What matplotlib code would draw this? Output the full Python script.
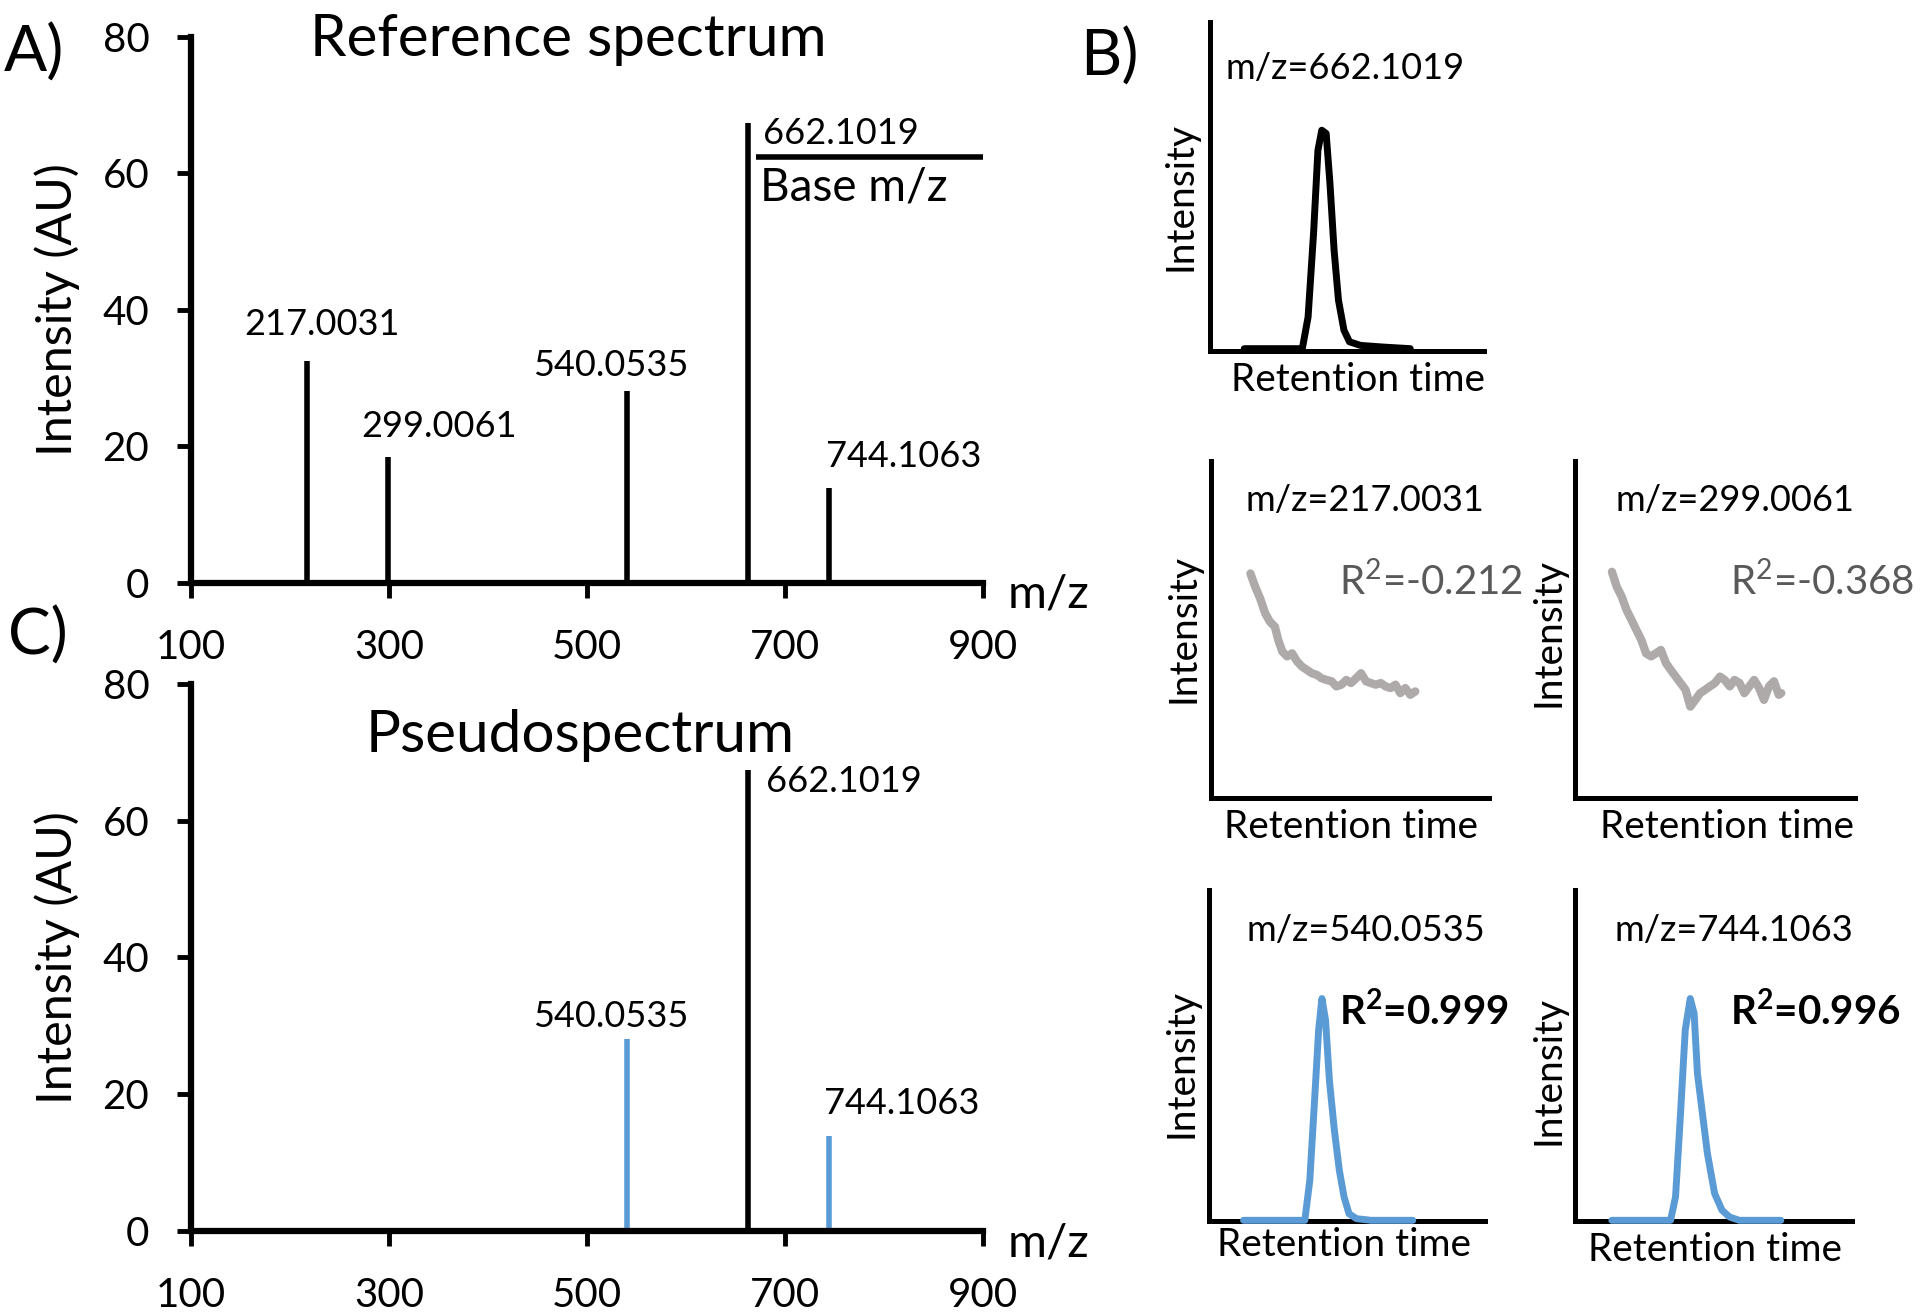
"""
Reference spectrum / pseudospectrum figure with extracted ion chromatograms
"""

import matplotlib
matplotlib.use('Agg')
import matplotlib.pyplot as plt

plt.rcParams['font.family'] = ['Lato', 'DejaVu Sans']
plt.rcParams['mathtext.fontset'] = 'custom'
plt.rcParams['mathtext.rm'] = 'Lato'
plt.rcParams['mathtext.bf'] = 'Lato:bold'

BLUE = '#5B9BD5'
GRAY = '#AEAAAA'
DARKGRAY = '#595959'

# 参考谱图 (A)
ref_mz = [217.0031, 299.0061, 540.0535, 662.1019, 744.1063]
ref_int = [32.5, 18.5, 28.1, 67.4, 13.9]
base_level = 62.4

# 伪谱图 (C)
pseudo_mz = [540.0535, 662.1019, 744.1063]
pseudo_int = [28.1, 67.4, 13.9]
pseudo_colors = [BLUE, 'black', BLUE]

mz_ticks = [100, 300, 500, 700, 900]
int_ticks = [0, 20, 40, 60, 80]

# 色谱图 (B)，保留时间 / 强度 均为 0-100 相对单位
rt_662 = [12.5, 33.7, 35.8, 37.8, 39.4, 40.8, 42.4, 43.8, 45.3, 46.9, 48.9, 50.9, 54.9, 63.0, 73.1]
eic_662 = [0.7, 0.7, 10.3, 35.7, 61.0, 67.1, 66.1, 50.8, 30.6, 15.4, 6.3, 2.8, 1.7, 1.2, 0.7]

rt_217 = [14.2, 15.9, 17.7, 19.5, 21.2, 23.0, 24.2, 25.7, 27.4, 29.2, 31.0, 32.7, 34.5, 36.3,
          38.1, 39.8, 41.6, 43.4, 45.1, 46.9, 48.7, 50.4, 52.2, 54.0, 55.8, 57.5, 59.3, 61.1,
          62.8, 64.6, 66.4, 68.1, 69.9, 71.7, 73.5]
eic_217 = [66.6, 62.7, 59.2, 54.8, 52.3, 50.8, 46.9, 43.4, 42.0, 42.9, 40.5, 39.0, 38.0, 37.0,
           36.5, 35.5, 35.0, 34.6, 33.1, 33.6, 35.0, 34.1, 35.5, 37.0, 34.6, 34.1, 33.6, 34.1,
           33.1, 32.6, 33.6, 31.1, 32.6, 30.6, 31.6]

rt_299 = [13.2, 14.9, 16.7, 18.4, 20.2, 21.9, 23.7, 25.4, 27.2, 28.9, 30.7, 32.5, 34.2, 36.0,
          37.7, 39.5, 41.2, 43.0, 44.7, 46.5, 48.2, 50.0, 51.8, 53.5, 55.3, 57.0, 58.8, 60.5,
          62.3, 64.0, 65.8, 67.5, 69.3, 71.1, 72.8, 73.7]
eic_299 = [67.1, 62.7, 59.7, 55.8, 52.8, 49.9, 46.9, 42.9, 42.0, 42.9, 43.9, 40.0, 38.0, 36.0,
           34.1, 32.1, 27.1, 29.1, 31.1, 32.1, 33.1, 34.1, 36.0, 35.0, 33.1, 35.0, 34.1, 31.1,
           33.1, 35.0, 32.6, 29.1, 33.1, 34.6, 30.6, 31.1]

rt_540 = [12.5, 34.7, 36.5, 38.3, 39.7, 40.9, 42.2, 43.6, 45.4, 47.2, 48.9, 50.7, 53.4, 58.7, 73.8]
eic_540 = [0.2, 0.2, 12.3, 37.5, 57.7, 67.2, 60.7, 42.5, 27.4, 15.3, 7.3, 2.2, 0.7, 0.2, 0.2]

rt_744 = [13.3, 34.5, 36.3, 38.1, 39.8, 41.6, 43.0, 44.2, 46.0, 47.8, 50.4, 53.1, 55.8, 59.3, 74.3]
eic_744 = [0.2, 0.2, 7.3, 32.5, 57.7, 67.2, 62.7, 44.6, 32.5, 20.4, 8.3, 3.2, 1.2, 0.2, 0.2]


def style_spectrum_axes(ax):
    for side in ('top', 'right'):
        ax.spines[side].set_visible(False)
    for side in ('left', 'bottom'):
        ax.spines[side].set_linewidth(4.5)
    ax.set_xlim(100, 900)
    ax.set_ylim(0, 80)
    ax.set_xticks(mz_ticks)
    ax.set_yticks(int_ticks)
    ax.tick_params(axis='x', direction='out', length=11, width=3.5, pad=22, labelsize=29)
    ax.tick_params(axis='y', direction='out', length=10, width=3.5, pad=20, labelsize=29)
    ax.set_ylabel('Intensity (AU)', fontsize=35, va='center')
    ax.yaxis.set_label_coords(-0.169, 0.5)
    ax.set_xlabel('m/z', fontsize=34, va='center', ha='center')
    ax.xaxis.set_label_coords(1.083, -0.022)


def style_eic_axes(ax):
    for side in ('top', 'right'):
        ax.spines[side].set_visible(False)
    for side in ('left', 'bottom'):
        ax.spines[side].set_linewidth(3.6)
    ax.set_xlim(0, 100)
    ax.set_ylim(0, 100)
    ax.set_xticks([])
    ax.set_yticks([])


fig = plt.figure(figsize=(19.2, 13.15), dpi=100)

# ---- A) 参考谱图 ----
ax_a = fig.add_axes([0.0995, 0.5567, 0.4125, 0.4152])
ax_a.vlines(ref_mz, 0, ref_int, color='black', lw=4)
style_spectrum_axes(ax_a)
ax_a.text(481, 79.6, 'Reference spectrum', fontsize=42, ha='center', va='center', clip_on=False)
ref_label_pos = [(232, 37.9, 'center'), (351, 22.9, 'center'), (524, 31.8, 'center'),
                 (677.5, 65.9, 'left'), (820, 18.5, 'center')]
for mz, (lx, ly, ha) in zip(ref_mz, ref_label_pos):
    ax_a.text(lx, ly, f'{mz:.4f}', fontsize=26, ha=ha, va='center')
ax_a.hlines(base_level, 671, 900, color='black', lw=4, clip_on=False)
ax_a.text(674.5, 58.0, 'Base m/z', fontsize=33, ha='left', va='center')

# ---- C) 伪谱图 ----
ax_c = fig.add_axes([0.0995, 0.0639, 0.4125, 0.4160])
ax_c.vlines(pseudo_mz, 0, pseudo_int, colors=pseudo_colors, lw=4)
style_spectrum_axes(ax_c)
ax_c.text(493, 72.5, 'Pseudospectrum', fontsize=42, ha='center', va='center')
pseudo_label_pos = [(524, 31.3, 'center'), (681, 65.7, 'left'), (818, 18.6, 'center')]
for mz, (lx, ly, ha) in zip(pseudo_mz, pseudo_label_pos):
    ax_c.text(lx, ly, f'{mz:.4f}', fontsize=26, ha=ha, va='center')

# ---- B) 色谱图 ----
eic_panels = [
    # rect, rt, intensity, colour, mz, r2 value, r2 bold, label coords
    ([0.6302, 0.7331, 0.1427, 0.2502], rt_662, eic_662, 'black', 662.1019, None, False,
     (0.493, 0.86), None, (-0.109, 0.468), (0.54, -0.088)),
    ([0.6307, 0.3932, 0.1448, 0.2563], rt_217, eic_217, GRAY, 217.0031, '-0.212', False,
     (0.554, 0.884), (0.46, 0.641), (-0.097, 0.504), (0.504, -0.086)),
    ([0.8203, 0.3932, 0.1458, 0.2563], rt_299, eic_299, GRAY, 299.0061, '-0.368', False,
     (0.571, 0.884), (0.554, 0.641), (-0.096, 0.49), (0.543, -0.086)),
    ([0.6297, 0.0715, 0.1438, 0.2517], rt_540, eic_540, BLUE, 540.0535, '0.999', True,
     (0.569, 0.879), (0.471, 0.631), (-0.098, 0.477), (0.489, -0.073)),
    ([0.8203, 0.0715, 0.1443, 0.2517], rt_744, eic_744, BLUE, 744.1063, '0.996', True,
     (0.574, 0.879), (0.56, 0.631), (-0.097, 0.456), (0.505, -0.088)),
]

for rect, rt, inten, color, mz, r2, bold, mz_pos, r2_pos, ylab_pos, xlab_pos in eic_panels:
    ax = fig.add_axes(rect)
    style_eic_axes(ax)
    lw = 6 if color == GRAY else 5
    ax.plot(rt, inten, color=color, lw=lw, solid_joinstyle='round',
            solid_capstyle='round', clip_on=False, zorder=3)
    ax.text(*mz_pos, f'm/z={mz:.4f}', transform=ax.transAxes, fontsize=26,
            ha='center', va='center')
    if r2:
        if bold:
            ax.text(*r2_pos, r'R$^{\mathbf{2}}$=' + r2, transform=ax.transAxes, fontsize=29,
                    fontweight='bold', color='black', ha='left', va='center')
        else:
            ax.text(*r2_pos, r'R$^{\mathrm{2}}$=' + r2, transform=ax.transAxes, fontsize=29,
                    color=DARKGRAY, ha='left', va='center')
    ax.set_ylabel('Intensity', fontsize=28, va='center')
    ax.yaxis.set_label_coords(*ylab_pos)
    ax.set_xlabel('Retention time', fontsize=28, va='center')
    ax.xaxis.set_label_coords(*xlab_pos)

# 面板标签
fig.text(0.0177, 0.960, 'A)', fontsize=46, ha='center', va='center')
fig.text(0.578, 0.957, 'B)', fontsize=46, ha='center', va='center')
fig.text(0.0198, 0.516, 'C)', fontsize=46, ha='center', va='center')

fig.savefig('out.png', dpi=100)
plt.close(fig)
